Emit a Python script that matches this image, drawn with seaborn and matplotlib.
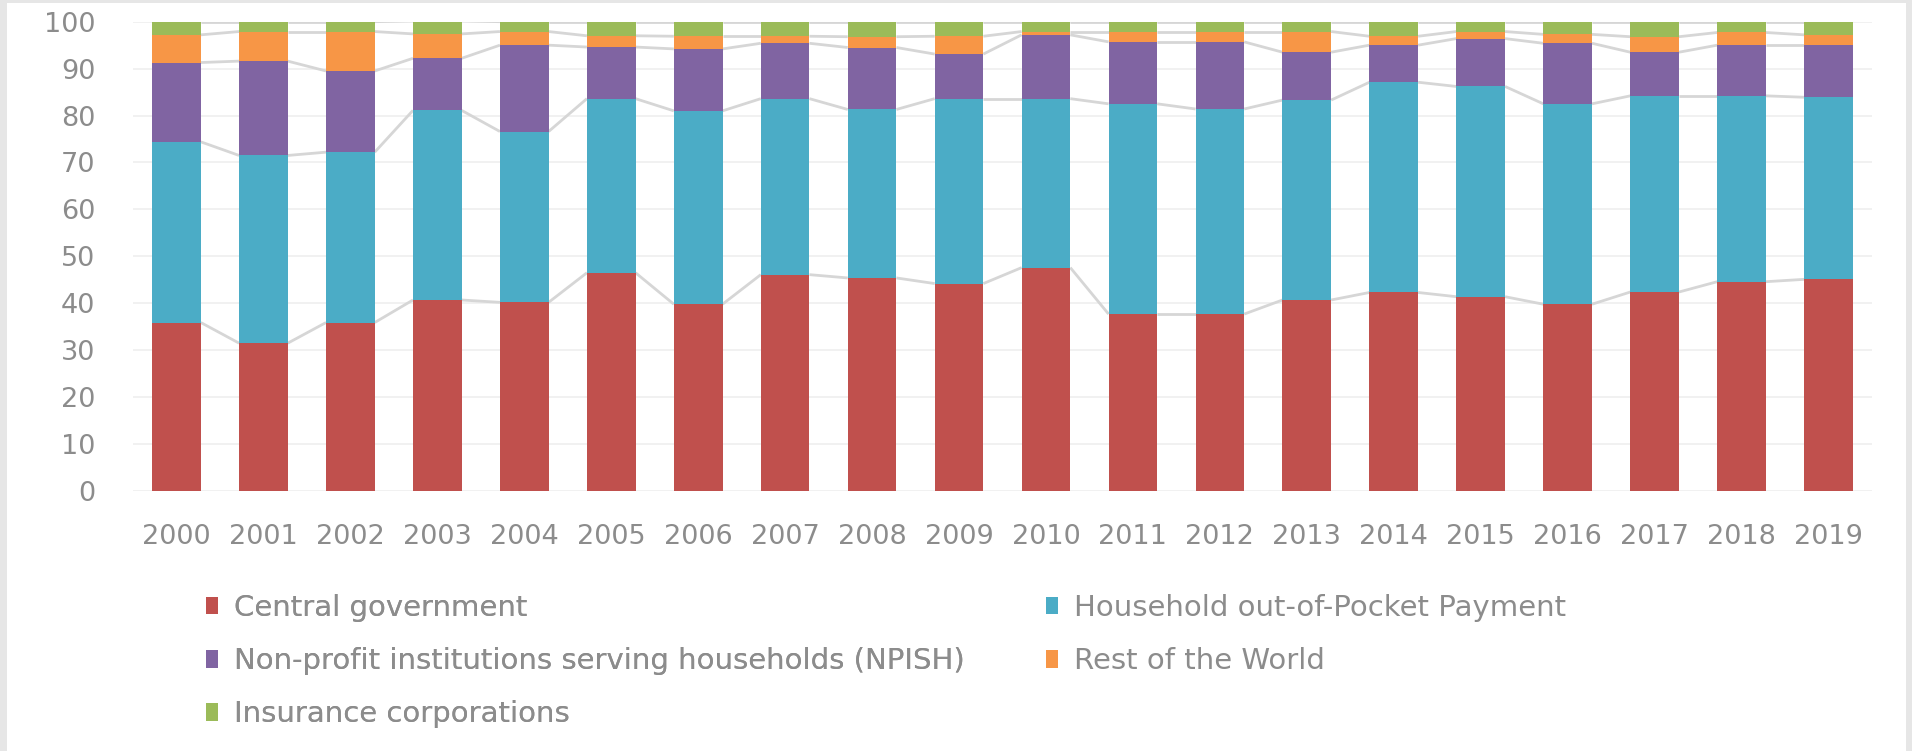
import numpy as np
import pandas as pd
import matplotlib
matplotlib.use("Agg")
import matplotlib.pyplot as plt
from matplotlib.patches import Patch, Rectangle
import seaborn as sns

# Data (share, %)
years = [str(y) for y in range(2000, 2020)]
central = [35.9, 31.5, 35.9, 40.7, 40.2, 46.5, 39.8, 46.1, 45.4, 44.2,
           47.6, 37.7, 37.7, 40.7, 42.3, 41.4, 39.8, 42.4, 44.6, 45.1]
household = [38.5, 40.0, 36.3, 40.4, 36.4, 37.1, 41.2, 37.5, 35.9, 39.4,
             36.0, 44.8, 43.7, 42.6, 44.8, 44.8, 42.7, 41.8, 39.6, 38.8]
npish = [16.9, 20.1, 17.3, 11.1, 18.4, 11.0, 13.2, 11.8, 13.2, 9.5,
         13.6, 13.2, 14.3, 10.2, 7.9, 10.2, 12.9, 9.3, 10.8, 11.1]
rest_world = [5.9, 6.3, 8.4, 5.2, 2.9, 2.4, 2.7, 1.5, 2.3, 3.8,
              0.7, 2.2, 2.2, 4.4, 1.9, 1.5, 1.9, 3.3, 2.7, 2.2]
insurance = [2.8, 2.1, 2.1, 2.8, 2.1, 3.0, 3.1, 3.1, 3.2, 3.1,
             2.1, 2.1, 2.1, 2.1, 3.1, 2.1, 2.7, 3.2, 2.3, 2.8]

series_names = ["Central government", "Household out-of-Pocket Payment",
                "Non-profit institutions serving households (NPISH)",
                "Rest of the World", "Insurance corporations"]
colors = ["#C0504D", "#4BACC6", "#8064A2", "#F79646", "#9BBB59"]

df = pd.DataFrame({"Year": years, series_names[0]: central, series_names[1]: household,
                   series_names[2]: npish, series_names[3]: rest_world,
                   series_names[4]: insurance}).set_index("Year")
cum = df.cumsum(axis=1)

sns.set_theme(style="white")
plt.rcParams["font.family"] = ["DejaVu Sans"]
TXT = "#8C8C8C"

fig = plt.figure(figsize=(19.12, 7.51), dpi=100)
ax = fig.add_axes([133 / 1912, 1 - 491 / 751, (1872 - 133) / 1912, (491 - 21.7) / 751])

bar_w = 0.56
# stacked bars: draw cumulative totals from the top series down
for name, col in reversed(list(zip(series_names, colors))):
    sns.barplot(x=cum.index, y=cum[name].values, color=col, width=bar_w,
                saturation=1, linewidth=0, edgecolor="none", ax=ax, zorder=3)

# series lines between bars
for name in series_names:
    vals = cum[name].values
    for i in range(len(vals) - 1):
        ax.plot([i + bar_w / 2, i + 1 - bar_w / 2], [vals[i], vals[i + 1]],
                color="#D6D6D6", lw=2, zorder=2, solid_capstyle="butt")

ax.set_ylim(0, 100)
ax.set_xlim(-0.5, len(years) - 0.5)
ax.set_yticks(range(0, 101, 10))
ax.yaxis.grid(True, color="#EFEFEF", lw=1.2, zorder=0)
ax.set_axisbelow(True)
for s in ax.spines.values():
    s.set_visible(False)
ax.set_xlabel("")
ax.set_ylabel("")
ax.tick_params(axis="y", length=0, pad=27, labelsize=19.5, labelcolor=TXT)
ax.tick_params(axis="x", length=0, pad=24, labelsize=19.5, labelcolor=TXT)

# legend in two columns, drawn as two legends so the columns line up
handles = [Patch(facecolor=c, edgecolor="none") for c in colors]
common = dict(frameon=False, fontsize=21, labelcolor=TXT, handlelength=0.42,
              handleheight=0.55, handletextpad=0.55, labelspacing=0.86,
              loc="upper left", borderaxespad=0, borderpad=0)
leg1 = fig.legend([handles[0], handles[2], handles[4]],
                  [series_names[0], series_names[2], series_names[4]],
                  bbox_to_anchor=(206 / 1912, 1 - 594 / 751), **common)
fig.add_artist(leg1)
fig.legend([handles[1], handles[3]], [series_names[1], series_names[3]],
           bbox_to_anchor=(1046 / 1912, 1 - 594 / 751), **common)

# light grey frame around the picture
fig.add_artist(Rectangle((0, 0), 7 / 1912, 1, transform=fig.transFigure,
                         facecolor="#E6E6E6", edgecolor="none"))
fig.add_artist(Rectangle((0, 1 - 3 / 751), 1, 3 / 751, transform=fig.transFigure,
                         facecolor="#E6E6E6", edgecolor="none"))
fig.add_artist(Rectangle((1 - 6 / 1912, 0), 6 / 1912, 1, transform=fig.transFigure,
                         facecolor="#E6E6E6", edgecolor="none"))

fig.savefig("out.png", dpi=100)
plt.close(fig)
